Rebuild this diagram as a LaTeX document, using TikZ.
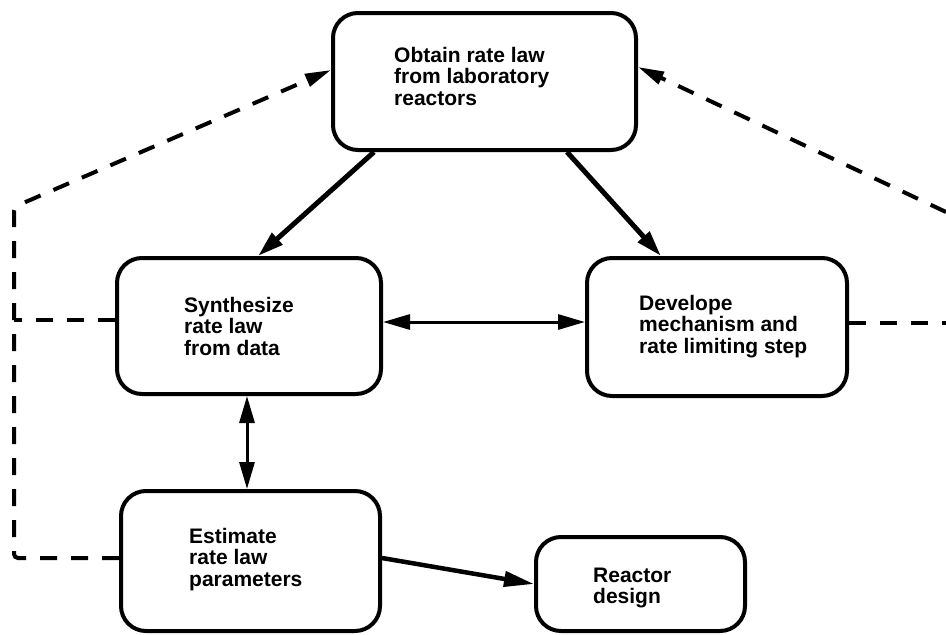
\documentclass[tikz,border=0pt]{standalone}
\usepackage{fontspec}
\setmainfont{Liberation Sans}
\usetikzlibrary{arrows.meta,calc}
\begin{document}
\begin{tikzpicture}[x=1pt,y=-1pt,
  box/.style={draw,line width=4pt,rounded corners=25pt,inner sep=0pt},
  lbl/.style={anchor=base west,inner sep=0pt,align=left,
    font=\fontsize{21}{21.5}\selectfont\bfseries},
  thick arrow/.style={line width=5pt,-{Triangle[length=26pt,width=15pt]}},
  thin arrow/.style={line width=3pt,{Triangle[length=27pt,width=15pt]}-{Triangle[length=27pt,width=15pt]}},
  dash line/.style={line width=4pt,dash pattern=on 17pt off 14pt},
  dash arrow/.style={dash line,-{Triangle[length=26pt,width=13pt]}}]
\fill[white] (0,0) rectangle (946,635);
\path[use as bounding box] (0,0) rectangle (946,635);

% boxes
\node[box,minimum width=303pt,minimum height=137pt] (A) at (484.5,81.5) {};
\node[box,minimum width=264pt,minimum height=136pt] (B) at (249,326) {};
\node[box,minimum width=260pt,minimum height=138pt] (C) at (717,327) {};
\node[box,minimum width=259pt,minimum height=140pt] (D) at (250.5,561) {};
\node[box,minimum width=209pt,minimum height=94pt] (E) at (640.5,584) {};

% labels (base anchor = baseline of the last line)
\node[lbl] (tA) at (394,105) {Obtain rate law\\from laboratory\\reactors};
\node[lbl] (tB) at (184,355) {Synthesize\\rate law\\from data};
\node[lbl] (tC) at (639,353) {Develope\\mechanism and\\rate limiting step};
\node[lbl] (tD) at (189,586) {Estimate\\rate law\\parameters};
\node[lbl] (tE) at (593,603.5) {Reactor\\design};

% solid connectors
\draw[thick arrow] ([xshift=-110.5pt]A.south) -- ([xshift=9pt]B.north);
\draw[thick arrow] ([xshift=82.5pt]A.south) -- ([xshift=-56pt]C.north);
\draw[thin arrow] ([yshift=4pt]B.east) -- ([yshift=5pt]C.west);
\draw[thin arrow] ([xshift=-2pt]B.south) -- ([xshift=-3.5pt]D.north);
\draw[line width=4.5pt,-{Triangle[length=30pt,width=15pt]}] ([yshift=3pt]D.east) -- (E.west);

% dashed feedback lines
\coordinate (lt) at (14,207);
\coordinate (lm) at (14,320);
\coordinate (lb) at (14,558);
\coordinate (rt) at (946,212);
\coordinate (rm) at (946,323);
\draw[dash arrow,rounded corners=4pt] ([yshift=3pt]D.west) -- (lb) -- (lt) -- ([yshift=11.5pt]A.west);
\draw[dash line] ([yshift=6pt]B.west) -- (lm);
\draw[dash line] ([yshift=4pt]C.east) -- (rm);
\draw[dash arrow] (rt) -- ([yshift=14.5pt]A.east);
\end{tikzpicture}
\end{document}
